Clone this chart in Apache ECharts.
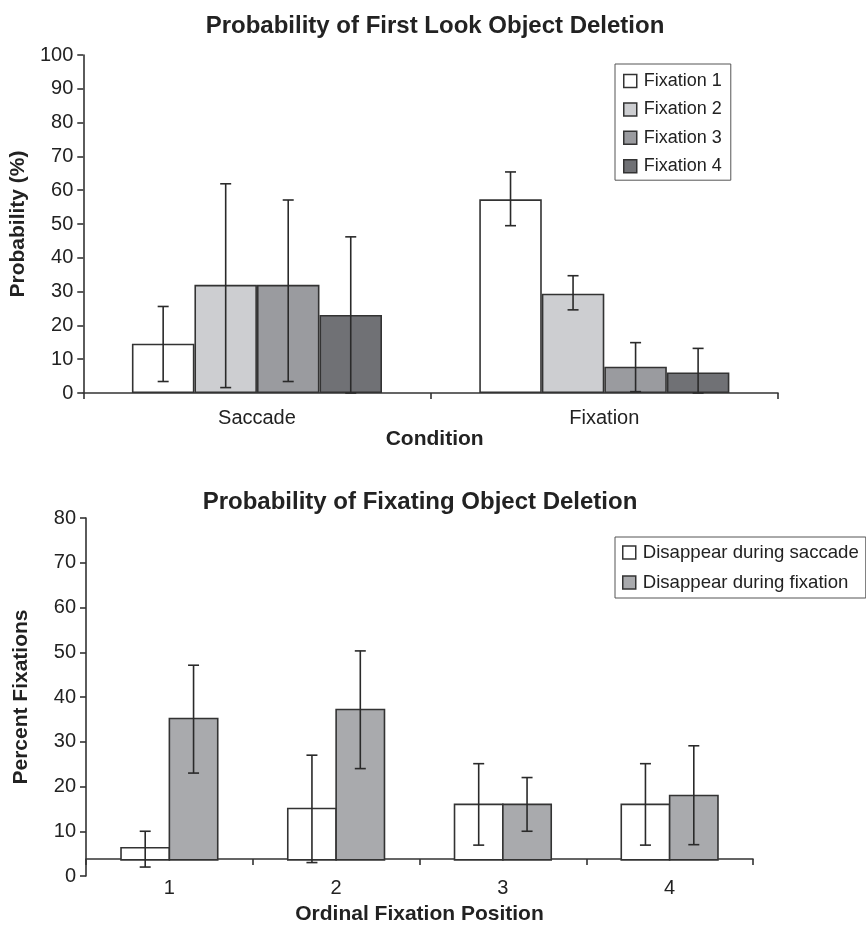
<!DOCTYPE html>
<html>
<head>
<meta charset="utf-8">
<script src="https://cdn.jsdelivr.net/npm/echarts@6/dist/echarts.min.js"></script>
<style>
html,body{margin:0;padding:0;background:#fff;}
#chart{width:866px;height:927px;}
</style>
</head>
<body>
<div id="chart"></div>
<script>
// ---- Top chart data ----
const conditions = ['Saccade', 'Fixation'];
const topSeriesNames = ['Fixation 1', 'Fixation 2', 'Fixation 3', 'Fixation 4'];
const fix1 = [14.6, 57.3];
const fix2 = [32.0, 29.4];
const fix3 = [32.0, 7.8];
const fix4 = [23.1, 6.1];
const fix1Low = [3.4, 49.5],  fix1High = [25.6, 65.4];
const fix2Low = [1.6, 24.6],  fix2High = [61.9, 34.7];
const fix3Low = [3.4, 0.4],   fix3High = [57.1, 14.9];
const fix4Low = [0.0, 0.0],   fix4High = [46.2, 13.2];
const topTicks = [0, 100, 10];

// ---- Bottom chart data ----
const positions = ['1', '2', '3', '4'];
const bottomSeriesNames = ['Disappear during saccade', 'Disappear during fixation'];
const sacc = [6.3, 15.1, 16.0, 16.0];
const fixn = [35.2, 37.2, 16.0, 18.0];
const saccLow = [2.0, 3.0, 6.9, 6.9],   saccHigh = [10.0, 27.0, 25.1, 25.1];
const fixnLow = [23.0, 24.0, 10.0, 7.0], fixnHigh = [47.1, 50.3, 22.0, 29.1];
const bottomBase = 3.6;   // value at which the bottom chart's bars start
const bottomTicks = [0, 80, 10];

const FONT = '"Liberation Sans", Arial, Helvetica, sans-serif';
const INK = '#222';
const AXIS = '#333';
const topColors = ['#ffffff', '#cdced1', '#9a9b9f', '#707175'];
const bottomColors = ['#ffffff', '#a9aaad'];

const topVals = [fix1, fix2, fix3, fix4];
const topLow = [fix1Low, fix2Low, fix3Low, fix4Low];
const topHigh = [fix1High, fix2High, fix3High, fix4High];
const TOP_FRAC = 0.18;
const BOT_FRAC = 0.29;

function errorSeries(name, xi, yi, low, high, k, n, frac) {
  const data = low.map((l, i) => [i, l, high[i]]);
  return {
    type: 'custom', name: name, xAxisIndex: xi, yAxisIndex: yi, z: 10,
    silent: true,
    data: data,
    renderItem: function (params, api) {
      const ci = api.value(0);
      const band = api.size([1, 0])[0];
      const w = band * frac;
      const lo = api.coord([ci, api.value(1)]);
      const hi = api.coord([ci, api.value(2)]);
      const x = lo[0] + (k - (n - 1) / 2) * w;
      const cap = 5.5;
      const st = { stroke: '#2a2a2a', lineWidth: 1.6 };
      return {
        type: 'group',
        children: [
          { type: 'line', shape: { x1: x, y1: lo[1], x2: x, y2: hi[1] }, style: st },
          { type: 'line', shape: { x1: x - cap, y1: lo[1], x2: x + cap, y2: lo[1] }, style: st },
          { type: 'line', shape: { x1: x - cap, y1: hi[1], x2: x + cap, y2: hi[1] }, style: st }
        ]
      };
    }
  };
}

function bottomBarSeries(name, vals, k, n, color) {
  return {
    type: 'custom', name: name, xAxisIndex: 1, yAxisIndex: 1, z: 5,
    itemStyle: { color: color, borderColor: AXIS, borderWidth: 1.6 },
    data: vals.map((v, i) => [i, v]),
    renderItem: function (params, api) {
      const ci = api.value(0);
      const band = api.size([1, 0])[0];
      const w = band * BOT_FRAC;
      const top = api.coord([ci, api.value(1)]);
      const base = api.coord([ci, bottomBase]);
      const x = top[0] + (k - (n - 1) / 2) * w - w / 2;
      return {
        type: 'rect',
        shape: { x: x, y: top[1], width: w, height: base[1] - top[1] },
        style: { fill: color, stroke: AXIS, lineWidth: 1.6 }
      };
    }
  };
}

const series = [];
topVals.forEach((vals, k) => {
  series.push({
    type: 'bar', name: topSeriesNames[k], xAxisIndex: 0, yAxisIndex: 0,
    data: vals, barWidth: (TOP_FRAC * 100) + '%', barGap: '0%',
    itemStyle: { color: topColors[k], borderColor: AXIS, borderWidth: 1.6 },
    emphasis: { disabled: true }
  });
});
topVals.forEach((vals, k) => {
  series.push(errorSeries('errTop' + k, 0, 0, topLow[k], topHigh[k], k, 4, TOP_FRAC));
});
series.push(bottomBarSeries(bottomSeriesNames[0], sacc, 0, 2, bottomColors[0]));
series.push(bottomBarSeries(bottomSeriesNames[1], fixn, 1, 2, bottomColors[1]));
series.push(errorSeries('errBot0', 1, 1, saccLow, saccHigh, 0, 2, BOT_FRAC));
series.push(errorSeries('errBot1', 1, 1, fixnLow, fixnHigh, 1, 2, BOT_FRAC));

const axisLineStyle = { show: true, lineStyle: { color: AXIS, width: 1.6 } };
const tickStyle = { show: true, length: 6, lineStyle: { color: AXIS, width: 1.6 } };
const labelStyle = { color: INK, fontSize: 20, fontFamily: FONT };
const nameStyle = { color: INK, fontSize: 21, fontWeight: 'bold', fontFamily: FONT };

const option = {
  animation: false,
  backgroundColor: '#fff',
  title: [
    { text: 'Probability of First Look Object Deletion', left: 430, top: 9, textAlign: 'center',
      textStyle: { color: INK, fontSize: 24, fontWeight: 'bold', fontFamily: FONT } },
    { text: 'Probability of Fixating Object Deletion', left: 415, top: 485, textAlign: 'center',
      textStyle: { color: INK, fontSize: 24, fontWeight: 'bold', fontFamily: FONT } }
  ],
  legend: [
    {
      orient: 'vertical', left: 615, top: 64,
      data: topSeriesNames.map((n, k) => ({ name: n, itemStyle: { color: topColors[k], borderColor: AXIS, borderWidth: 1.5 } })),
      icon: 'rect', itemWidth: 13, itemHeight: 13, itemGap: 10.4,
      padding: [8, 9, 5, 8], borderColor: '#555', borderWidth: 1,
      textStyle: { color: INK, fontSize: 18, fontFamily: FONT, padding: [0, 0, 0, 2] },
      selectedMode: false
    },
    {
      orient: 'vertical', left: 615, top: 537,
      data: bottomSeriesNames.map((n, k) => ({ name: n, itemStyle: { color: bottomColors[k], borderColor: AXIS, borderWidth: 1.5 } })),
      icon: 'rect', itemWidth: 13, itemHeight: 13, itemGap: 11,
      padding: [6, 7, 6, 7], borderColor: '#555', borderWidth: 1,
      textStyle: { color: INK, fontSize: 18.6, fontFamily: FONT, padding: [0, 0, 0, 2] },
      selectedMode: false
    }
  ],
  grid: [
    { left: 83, top: 55, width: 695, height: 338, containLabel: false },
    { left: 86, top: 518, width: 667, height: 358, containLabel: false }
  ],
  xAxis: [
    {
      type: 'category', gridIndex: 0, data: conditions,
      axisLine: axisLineStyle, axisTick: tickStyle,
      axisLabel: Object.assign({ margin: 15 }, labelStyle),
      name: 'Condition', nameLocation: 'middle', nameGap: 35,
      nameTextStyle: Object.assign({ padding: [0, 0, 0, 8] }, nameStyle)
    },
    {
      type: 'category', gridIndex: 1, data: positions, offset: -17,
      axisLine: axisLineStyle, axisTick: tickStyle,
      axisLabel: Object.assign({ margin: 19 }, labelStyle),
      name: 'Ordinal Fixation Position', nameLocation: 'middle', nameGap: 45, nameTextStyle: nameStyle
    }
  ],
  yAxis: [
    {
      type: 'value', gridIndex: 0, min: topTicks[0], max: topTicks[1], interval: topTicks[2],
      axisLine: axisLineStyle, axisTick: tickStyle, splitLine: { show: false },
      axisLabel: Object.assign({ margin: 10 }, labelStyle),
      name: 'Probability (%)', nameLocation: 'middle', nameGap: 51, nameTextStyle: nameStyle
    },
    {
      type: 'value', gridIndex: 1, min: bottomTicks[0], max: bottomTicks[1], interval: bottomTicks[2],
      axisLine: axisLineStyle, axisTick: tickStyle, splitLine: { show: false },
      axisLabel: Object.assign({ margin: 10 }, labelStyle),
      name: 'Percent Fixations', nameLocation: 'middle', nameGap: 54, nameTextStyle: nameStyle
    }
  ],
  series: series
};

const chart = echarts.init(document.getElementById('chart'), null, { renderer: 'canvas' });
chart.setOption(option);
</script>
</body>
</html>
